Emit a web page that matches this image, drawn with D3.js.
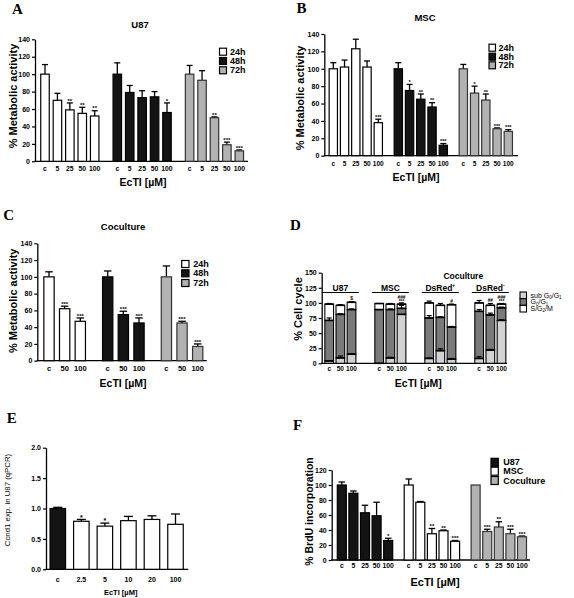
<!DOCTYPE html>
<html><head><meta charset="utf-8">
<script src="https://cdn.jsdelivr.net/npm/d3@7"></script>
<style>body{margin:0;background:#fff}svg{display:block}</style>
</head><body><script>
// ---------------- DATA ----------------
const timeLabels = ["24h","48h","72h"];
const dosesAB = ["c","5","25","50","100"];
// Panel A (U87)
const aMean24 = [100,70,59,55,52], aSd24 = [11,8,8,7,6], aSig24 = ["","","**","**","**"];
const aMean48 = [100,79,73,74,56], aSd48 = [13,8,8,6,11], aSig48 = ["","","","","*"];
const aMean72 = [100,93,50,19,12], aSd72 = [10,11,1,3,1], aSig72 = ["","","**","***","***"];
// Panel B (MSC)
const bMean24 = [100,102,123,102,38], bSd24 = [7,8,11,7,4], bSig24 = ["","","","","***"];
const bMean48 = [100,75,65,56,12], bSd48 = [7,7,6,5,2], bSig48 = ["","*","**","**","***"];
const bMean72 = [100,72,64,31,28], bSd72 = [5,8,7,1,2], bSig72 = ["","*","**","***","***"];
// Panel C (Coculture)
const dosesC = ["c","50","100"];
const cMean24 = [100,62,47], cSd24 = [6,3,4], cSig24 = ["","***","***"];
const cMean48 = [100,55,45], cSd48 = [7,4,6], cSig48 = ["","***","***"];
const cMean72 = [100,45,17], cSd72 = [13,2,3], cSig72 = ["","***","***"];
// Panel D (cell cycle, stacked)
const dGroups = ["U87","MSC","DsRed+","DsRed-"];
const dDoses = ["c","50","100"];
const dSubG1 = [4,9,15, 0,9,81, 8,21,7, 8,22,71];
const dG0G1  = [67,72,74, 89,80,10, 67,55,53, 78,58,21];
const dSG2M  = [27,15,12, 10,9,7, 25,20,37, 14,16,6];
const dSdSub = [0,3,1, 0,1,0, 1,3,1, 3,1,1];
const dSdG0  = [4,1,1, 0,1,5, 4,1,1, 3,3,1];
const dSdS   = [1,1,1, 0,1,2, 3,3,1, 4,3,1];
const dMarkTop = ["","","$", "","","###", "","","#", "","##","###"];
const dMarkLow = ["","","", "","","***", "","","", "","","***"];
const dPhases = ["sub G0/G1","G0/G1","S/G2/M"];
// Panel E (Ccnd1 qPCR)
const eDoses = ["c","2.5","5","10","20","100"];
const eMean = [1.0,0.79,0.71,0.80,0.82,0.74];
const eSd = [0.02,0.03,0.05,0.07,0.06,0.17];
const eSig = ["","*","*","","",""];
// Panel F (BrdU)
const fLabels = ["U87","MSC","Coculture"];
const fMeanU87 = [100,89,63,59,26], fSdU87 = [4,3,10,18,3], fSigU87 = ["","","","","*"];
const fMeanMSC = [100,77,35,39,25], fSdMSC = [8,1,7,1,1], fSigMSC = ["","","**","**","***"];
const fMeanCo  = [100,38,44,35,31], fSdCo  = [0,3,7,6,1], fSigCo  = ["","***","**","***","***"];

// ---------------- DRAW ----------------
const SANS = "'Liberation Sans', Arial, sans-serif";
const SERIF = "'Liberation Serif', 'Times New Roman', serif";
const WHITE = "#ffffff", BLACK = "#141414", GRAY = "#b2b2b2";
const svg = d3.select("body").append("svg").attr("width",574).attr("height",598);

function txt(g, x, y, s, fs, opt={}) {
  return g.append("text").attr("x",x).attr("y",y).text(s)
    .attr("font-family", opt.serif ? SERIF : SANS)
    .attr("font-size", fs).attr("font-weight", opt.normal ? "normal" : "bold")
    .attr("text-anchor", opt.anchor || "middle")
    .attr("dominant-baseline", opt.base || "central")
    .attr("fill", "#000");
}
function vlabel(g, x, y, s, fs, opt={}) {
  txt(g, 0, 0, s, fs, opt).attr("transform", `translate(${x},${y}) rotate(-90)`);
}
function legend(g, x, ys, labels, fills, bw, bh, tx, fs) {
  labels.forEach((l,i)=>{
    g.append("rect").attr("x",x).attr("y",ys[i]-bh/2).attr("width",bw).attr("height",bh)
      .attr("fill",fills[i]).attr("stroke","#000").attr("stroke-width",1.2);
    txt(g, tx, ys[i], l, fs, {anchor:"start"});
  });
}
function axes(g, p, y) {
  const ya = g.append("g").attr("transform",`translate(${p.ax},0)`)
    .call(d3.axisLeft(y).tickValues(p.ticks).tickSizeInner(3).tickSizeOuter(0).tickPadding(2)
      .tickFormat(p.fmt || d3.format("d")));
  ya.select(".domain").attr("stroke","#000").attr("stroke-width",1.3);
  ya.selectAll(".tick line").attr("stroke","#000").attr("stroke-width",1.2);
  ya.selectAll(".tick text").attr("font-family",SANS).attr("font-weight","bold")
    .attr("font-size",p.tickFs).attr("fill","#000");
  g.append("line").attr("x1",p.ax-0.6).attr("x2",p.xEnd).attr("y1",p.y0).attr("y2",p.y0)
    .attr("stroke","#000").attr("stroke-width",1.3);
}

function barPanel(p) {
  const g = svg.append("g");
  const y = d3.scaleLinear().domain([0,p.yMax]).range([p.y0,p.yTop]);
  const nCat = p.cats.length;
  const lastSlot = (p.series.length-1)*p.stride + (nCat-1);
  const x = d3.scaleLinear().domain([0,lastSlot]).range([p.first,p.last]);
  axes(g, p, y);
  p.series.forEach((s,gi)=>{
    s.mean.forEach((v,i)=>{
      const cx = x(gi*p.stride + i);
      const fill = Array.isArray(s.fill) ? s.fill[i] : s.fill;
      const top = y(v), et = y(v + s.sd[i]);
      if (s.sd[i] > 0) {
        g.append("line").attr("x1",cx).attr("x2",cx).attr("y1",top).attr("y2",et)
          .attr("stroke","#000").attr("stroke-width",1.3);
        g.append("line").attr("x1",cx-p.cap/2).attr("x2",cx+p.cap/2).attr("y1",et).attr("y2",et)
          .attr("stroke","#000").attr("stroke-width",1.3);
      }
      g.append("rect").attr("x",cx-p.bw/2).attr("y",top).attr("width",p.bw).attr("height",p.y0-top)
        .attr("fill",fill).attr("stroke", fill===GRAY ? "#333" : "#000").attr("stroke-width",1.2);
      if (s.sig && s.sig[i]) txt(g, cx, et-2.3, s.sig[i], p.sigFs);
      txt(g, cx, p.tickY, p.cats[i], p.catFs);
    });
  });
  txt(g, p.xtX, p.xtY, "EcTI [µM]", p.xtFs);
  vlabel(g, p.ylX, p.ylY, p.ylab, p.ylFs, p.ylOpt || {});
  if (p.title) txt(g, p.title[0], p.title[1], p.title[2], p.titleFs);
  txt(g, p.letter[0], p.letter[1], p.letter[2], 15, {serif:true, anchor:"start", base:"auto"});
  return g;
}

// Panel A
const gA = barPanel({ax:35, y0:161.3, yTop:39.3, yMax:140, ticks:d3.range(0,141,20), xEnd:248,
  first:45, last:239.3, stride:5.82, cats:dosesAB, bw:8.5, cap:6, tickY:168, catFs:6.8,
  tickFs:7, sigFs:6, xtX:143, xtY:182, xtFs:10.5, ylX:12.5, ylY:96, ylab:"% Metabolic activity", ylFs:11,
  title:[140,24,"U87"], titleFs:9.5, letter:[12,13.5,"A"],
  series:[{mean:aMean24,sd:aSd24,sig:aSig24,fill:WHITE},{mean:aMean48,sd:aSd48,sig:aSig48,fill:BLACK},
          {mean:aMean72,sd:aSd72,sig:aSig72,fill:GRAY}]});
legend(gA, 219.5, [51.7,61,70.3], timeLabels, [WHITE,BLACK,GRAY], 7, 7, 230, 9);

// Panel B
const gB = barPanel({ax:324.3, y0:155.7, yTop:34, yMax:140, ticks:d3.range(0,141,20), xEnd:518,
  first:333.3, last:508.3, stride:5.78, cats:dosesAB, bw:8.3, cap:6, tickY:163, catFs:6.5,
  tickFs:7, sigFs:5.5, xtX:416, xtY:176.5, xtFs:10.5, ylX:300, ylY:98, ylab:"% Metabolic activity", ylFs:11,
  title:[425,17,"MSC"], titleFs:9.5, letter:[296.5,12.7,"B"],
  series:[{mean:bMean24,sd:bSd24,sig:bSig24,fill:WHITE},{mean:bMean48,sd:bSd48,sig:bSig48,fill:BLACK},
          {mean:bMean72,sd:bSd72,sig:bSig72,fill:GRAY}]});
legend(gB, 489, [47.7,56.7,65.3], timeLabels, [WHITE,BLACK,GRAY], 6.5, 7, 498.5, 9);

// Panel C
const gC = barPanel({ax:37.3, y0:360.7, yTop:243.3, yMax:140, ticks:d3.range(0,141,20), xEnd:206.7,
  first:49, last:197.7, stride:3.75, cats:dosesC, bw:10.3, cap:7.5, tickY:368, catFs:7.5,
  tickFs:7, sigFs:6, xtX:123, xtY:382.7, xtFs:10.5, ylX:12.5, ylY:300.8, ylab:"% Metabolic activity", ylFs:11,
  title:[123,226.7,"Coculture"], titleFs:9.5, letter:[3.3,220,"C"],
  series:[{mean:cMean24,sd:cSd24,sig:cSig24,fill:WHITE},{mean:cMean48,sd:cSd48,sig:cSig48,fill:BLACK},
          {mean:cMean72,sd:cSd72,sig:cSig72,fill:GRAY}]});
legend(gC, 181.7, [264,273.3,283], timeLabels, [WHITE,BLACK,GRAY], 7.3, 7, 193.3, 9);

// Panel D (stacked)
(function(){
  const p = {ax:321.7, y0:363.3, yTop:272.7, yMax:150, ticks:d3.range(0,151,25), xEnd:507, tickFs:7};
  const g = svg.append("g");
  const y = d3.scaleLinear().domain([0,p.yMax]).range([p.y0,p.yTop]);
  const stride = 4.48;
  const x = d3.scaleLinear().domain([0,3*stride+2]).range([329.2,501.5]);
  axes(g, p, y);
  const LIGHT = "#d2d2d2", DARK = "#7a7a7a";
  const bw = 8.7, cap = 5;
  const layers = [[dSubG1,dSdSub,LIGHT],[dG0G1,dSdG0,DARK],[dSG2M,dSdS,WHITE]];
  dGroups.forEach((gn,gi)=>{
    dDoses.forEach((dn,i)=>{
      const k = gi*3+i;
      const cx = x(gi*stride+i);
      let base = 0;
      const tops = [];
      layers.forEach(([vals,sds,fill])=>{
        const v = vals[k];
        g.append("rect").attr("x",cx-bw/2).attr("y",y(base+v)).attr("width",bw)
          .attr("height",y(base)-y(base+v)).attr("fill",fill).attr("stroke","#000").attr("stroke-width",1.1);
        base += v;
        tops.push([base, sds[k]]);
      });
      tops.forEach(([t,sd])=>{
        g.append("line").attr("x1",cx-bw/2).attr("x2",cx+bw/2).attr("y1",y(t)).attr("y2",y(t))
          .attr("stroke","#000").attr("stroke-width",1.6);
        if (sd>0) {
          g.append("line").attr("x1",cx).attr("x2",cx).attr("y1",y(t)).attr("y2",y(t+sd)).attr("stroke","#000").attr("stroke-width",1.2);
          g.append("line").attr("x1",cx-cap/2).attr("x2",cx+cap/2).attr("y1",y(t+sd)).attr("y2",y(t+sd)).attr("stroke","#000").attr("stroke-width",1.2);
        }
      });
      const tTop = y(base + dSdS[k]);
      if (dMarkLow[k]) txt(g, cx, tTop-1.8, dMarkLow[k], 4.8);
      if (dMarkTop[k]) txt(g, cx, tTop-(dMarkLow[k]?5.8:3), dMarkTop[k], 4.8);
      txt(g, cx, 368.3, dn, 6.5);
    });
    // group label with underline
    const x0 = x(gi*stride) - bw/2 - 3, x1 = x(gi*stride+2) + bw/2 + 3;
    g.append("line").attr("x1",x0).attr("x2",x1).attr("y1",292.5).attr("y2",292.5).attr("stroke","#000").attr("stroke-width",1.2);
    const lbl = gn.replace(/[+-]$/,"");
    const sup = gn.endsWith("+") ? "+" : (gn.endsWith("-") ? "-" : "");
    const t = txt(g, (x0+x1)/2, 287.5, lbl, 8.5);
    if (sup) t.append("tspan").text(sup).attr("font-size",5).attr("dy",-2.5);
  });
  txt(g, 463.3, 276, "Coculture", 8.5);
  txt(g, 418.3, 382.7, "EcTI [µM]", 10.5);
  vlabel(g, 298, 309, "% Cell cycle", 11);
  txt(g, 290, 230, "D", 15, {serif:true, anchor:"start", base:"auto"});
  // legend with subscripts
  const lys = [295.3, 302, 308.7];
  const fills = [LIGHT, DARK, WHITE];
  const parts = [[["sub G",""],["0","s"],["/G",""],["1","s"]],[["G",""],["0","s"],["/G",""],["1","s"]],[["S/G",""],["2","s"],["/M",""]]];
  lys.forEach((ly,i)=>{
    g.append("rect").attr("x",520).attr("y",ly-3.3).attr("width",6.5).attr("height",6.6)
      .attr("fill",fills[i]).attr("stroke","#000").attr("stroke-width",1.1);
    const t = g.append("text").attr("x",530.5).attr("y",ly+2.3)
      .attr("font-family",SANS).attr("font-size",7).attr("fill","#000");
    parts[i].forEach(([s,k],j)=>{
      const ts = t.append("tspan").text(s);
      if (k==="s") ts.attr("font-size",4.5).attr("dy",1.2);
      else if (j>0) ts.attr("dy",-1.2);
    });
  });
})();

// Panel E
barPanel({ax:46, y0:569.3, yTop:447.7, yMax:2.0, ticks:[0,0.5,1.0,1.5,2.0], fmt:d3.format(".1f"), xEnd:188.3,
  first:57.8, last:175.5, stride:0, cats:eDoses, bw:15.5, cap:9, tickY:579.3, catFs:7,
  tickFs:7, sigFs:7, xtX:120.7, xtY:592.5, xtFs:7.5, ylX:7.5, ylY:500, ylab:"Ccnd1  exp. in U87 (qPCR)", ylFs:7.8,
  ylOpt:{normal:true}, letter:[6.7,423.3,"E"],
  series:[{mean:eMean,sd:eSd,sig:eSig,fill:eMean.map((d,i)=>i===0?BLACK:WHITE)}]});

// Panel F
const gF = barPanel({ax:331.7, y0:560, yTop:470, yMax:120, ticks:d3.range(0,121,20), xEnd:530,
  first:341.8, last:522, stride:5.77, cats:dosesAB, bw:9, cap:6.5, tickY:565.7, catFs:6.8,
  tickFs:7, sigFs:6, xtX:435, xtY:581.7, xtFs:11, ylX:308.5, ylY:511.5, ylab:"% BrdU incorporation", ylFs:10.5,
  letter:[293,430,"F"],
  series:[{mean:fMeanU87,sd:fSdU87,sig:fSigU87,fill:BLACK},{mean:fMeanMSC,sd:fSdMSC,sig:fSigMSC,fill:WHITE},
          {mean:fMeanCo,sd:fSdCo,sig:fSigCo,fill:GRAY}]});
legend(gF, 491, [462.3,471.2,480.5], fLabels, [BLACK,WHITE,GRAY], 7.3, 8, 503.3, 9);
</script></body></html>
